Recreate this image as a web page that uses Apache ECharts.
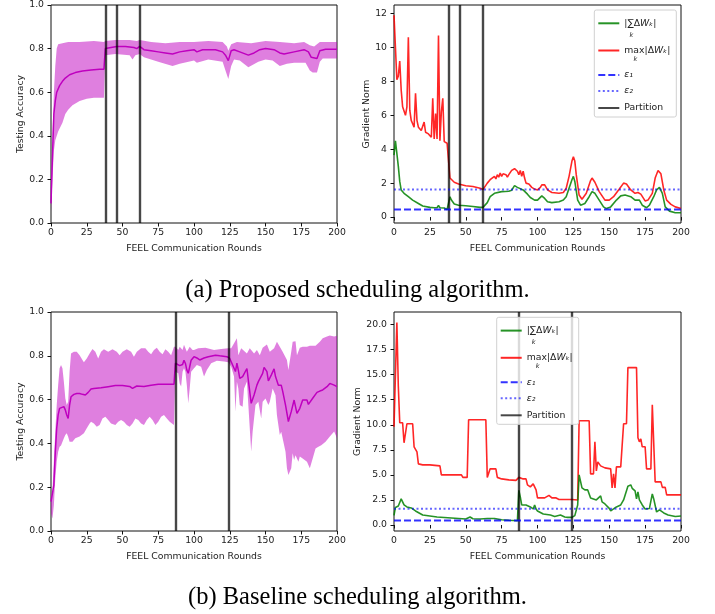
<!DOCTYPE html>
<html><head><meta charset="utf-8">
<script src="https://cdn.jsdelivr.net/npm/echarts@6/dist/echarts.min.js"></script>
<style>html,body{margin:0;padding:0;background:#fff}#c{width:715px;height:614px}</style>
</head><body><div id="c"></div><script>
// ---------- (a) Proposed: testing accuracy ----------
const tlMean = [[0,0.09],[1,0.3],[2,0.5],[3,0.56],[4,0.6],[6,0.63],[8,0.65],[10,0.665],[13,0.68],[17,0.69],[22,0.697],[28,0.702],[34,0.705],[37,0.705],[38,0.80],[42,0.805],[46,0.81],[52,0.81],[58,0.805],[60,0.80],[62,0.81],[65,0.795],[70,0.79],[75,0.785],[80,0.78],[85,0.775],[90,0.785],[95,0.79],[100,0.795],[102,0.785],[106,0.795],[115,0.795],[120,0.785],[122,0.77],[124,0.745],[126,0.79],[128,0.795],[132,0.785],[138,0.77],[142,0.78],[146,0.795],[150,0.8],[156,0.795],[160,0.78],[163,0.775],[170,0.785],[177,0.795],[180,0.785],[182,0.76],[186,0.755],[188,0.79],[192,0.797],[200,0.797]];
const tlUpper = [[0,0.12],[1,0.4],[2,0.6],[3,0.72],[4,0.8],[5,0.82],[8,0.825],[12,0.83],[20,0.83],[30,0.835],[37,0.83],[38,0.835],[45,0.84],[55,0.84],[60,0.835],[62,0.84],[70,0.83],[80,0.825],[90,0.83],[100,0.83],[110,0.835],[120,0.83],[123,0.81],[124,0.79],[126,0.82],[130,0.83],[140,0.825],[150,0.835],[160,0.83],[170,0.825],[177,0.83],[181,0.815],[184,0.81],[188,0.83],[200,0.83]];
const tlLower = [[0,0.05],[1,0.2],[2,0.33],[3,0.38],[5,0.42],[8,0.46],[10,0.5],[12,0.52],[15,0.54],[20,0.56],[25,0.57],[30,0.575],[37,0.575],[38,0.77],[45,0.775],[55,0.77],[57,0.75],[59,0.77],[62,0.775],[65,0.76],[75,0.74],[85,0.72],[90,0.73],[100,0.745],[102,0.735],[110,0.75],[120,0.74],[122,0.7],[124,0.66],[126,0.72],[128,0.75],[132,0.745],[138,0.715],[145,0.74],[150,0.75],[155,0.745],[160,0.72],[165,0.73],[170,0.735],[178,0.735],[181,0.7],[183,0.69],[186,0.69],[188,0.74],[190,0.755],[200,0.755]];
const tlParts = [38, 46, 62];

// ---------- (a) Proposed: gradient norm ----------
const trMax = [[0,11.9],[1,11.8],[2,8.1],[3,8.3],[4,9.2],[5,7.5],[6,6.5],[7,6.6],[8,6.0],[9,6.5],[10,10.6],[11,6.3],[12,5.7],[13,5.5],[14,5.3],[15,7.3],[16,5.7],[17,5.3],[18,5.2],[19,5.1],[20,5.0],[21,5.6],[22,5.0],[23,4.9],[24,4.9],[25,4.8],[26,4.7],[27,7.0],[28,4.6],[29,6.1],[30,4.6],[31,10.7],[32,4.5],[33,6.2],[34,7.0],[35,4.45],[36,4.35],[37,4.35],[38,4.3],[39,2.3],[40,2.2],[42,2.05],[45,1.95],[50,1.85],[55,1.8],[60,1.7],[62,1.62],[63,1.65],[65,2.0],[67,2.2],[68,2.1],[70,2.4],[71,2.25],[72,2.5],[73,2.35],[74,2.6],[75,2.4],[76,2.55],[77,2.45],[78,2.5],[79,2.35],[80,2.5],[81,2.6],[82,2.75],[83,2.8],[84,2.85],[85,2.75],[86,2.7],[87,2.5],[88,2.75],[89,2.4],[90,2.7],[91,2.3],[92,2.0],[93,2.1],[94,1.95],[96,1.75],[98,1.65],[100,1.6],[102,1.75],[103,1.9],[105,1.9],[107,1.6],[110,1.45],[115,1.4],[118,1.45],[120,1.7],[122,2.4],[124,3.3],[125,3.55],[126,3.3],[127,2.5],[129,1.3],[131,1.05],[134,1.4],[137,2.15],[138,2.3],[140,2.05],[143,1.5],[147,1.0],[150,1.0],[153,1.2],[157,1.65],[160,2.0],[162,1.95],[165,1.6],[168,1.4],[170,1.45],[172,1.35],[175,0.95],[177,1.0],[180,1.4],[182,2.3],[184,2.75],[186,2.55],[188,1.6],[190,1.0],[193,0.75],[196,0.6],[200,0.5]];
const trSum = [[0,3.65],[1,4.5],[2,4.4],[3,3.0],[4,2.1],[5,1.6],[7,1.4],[10,1.2],[13,1.0],[17,0.8],[20,0.65],[25,0.57],[28,0.55],[30,0.55],[31,0.68],[32,0.55],[35,0.53],[37,0.45],[38,0.42],[39,1.2],[40,1.0],[42,0.77],[45,0.7],[50,0.67],[55,0.62],[60,0.57],[62,0.57],[63,0.6],[65,0.85],[67,1.2],[70,1.4],[75,1.5],[80,1.52],[82,1.58],[84,1.85],[86,1.75],[90,1.6],[93,1.35],[95,1.15],[98,1.0],[100,1.0],[103,1.25],[105,1.1],[107,0.9],[110,0.85],[115,0.9],[118,1.0],[120,1.2],[122,1.7],[124,2.2],[125,2.4],[126,2.1],[128,1.0],[130,0.7],[133,0.8],[136,1.2],[138,1.5],[140,1.4],[143,1.0],[146,0.6],[148,0.5],[151,0.6],[155,1.0],[158,1.25],[161,1.3],[165,1.2],[168,1.0],[171,1.0],[173,0.7],[176,0.55],[178,0.7],[181,1.2],[183,1.6],[185,1.75],[187,1.4],[189,0.6],[192,0.35],[196,0.25],[200,0.25]];
const trParts = [38, 46, 62];
const trYTicks = [0, 2, 4, 6, 8, 10, 12];

// ---------- (b) Baseline: testing accuracy ----------
const blMean = [[0,0.134],[1,0.134],[2,0.21],[3,0.36],[4,0.47],[5,0.53],[6,0.56],[7,0.568],[9,0.568],[10,0.553],[11,0.53],[12,0.514],[13,0.575],[14,0.613],[16,0.624],[18,0.628],[20,0.628],[22,0.624],[24,0.621],[26,0.633],[28,0.648],[30,0.651],[35,0.654],[40,0.659],[45,0.664],[50,0.664],[55,0.66],[57,0.651],[60,0.662],[65,0.66],[70,0.666],[75,0.67],[80,0.67],[86,0.67],[87,0.766],[88,0.76],[90,0.755],[92,0.76],[93,0.78],[94,0.765],[95,0.735],[96,0.72],[97,0.75],[98,0.78],[100,0.796],[102,0.79],[104,0.781],[107,0.79],[110,0.796],[115,0.803],[118,0.8],[123,0.796],[125,0.788],[127,0.758],[129,0.728],[130,0.766],[131,0.735],[132,0.697],[134,0.705],[137,0.742],[138,0.742],[140,0.583],[142,0.621],[144,0.666],[145,0.682],[148,0.72],[149,0.747],[151,0.728],[152,0.685],[154,0.712],[156,0.74],[157,0.705],[159,0.666],[161,0.666],[162,0.639],[164,0.575],[166,0.5],[167,0.505],[168,0.545],[170,0.598],[171,0.6],[172,0.537],[174,0.56],[176,0.598],[179,0.598],[180,0.578],[183,0.606],[186,0.633],[188,0.639],[190,0.644],[193,0.659],[195,0.674],[198,0.666],[200,0.659]];
const blUpper = [[0,0.134],[1,0.18],[2,0.317],[3,0.454],[4,0.575],[5,0.666],[6,0.743],[7,0.758],[8,0.743],[9,0.682],[10,0.606],[11,0.575],[12,0.59],[13,0.727],[14,0.811],[16,0.819],[18,0.819],[20,0.803],[22,0.781],[23,0.77],[25,0.788],[27,0.811],[29,0.831],[31,0.819],[33,0.788],[35,0.819],[37,0.83],[40,0.819],[43,0.83],[46,0.819],[48,0.803],[50,0.819],[53,0.83],[56,0.819],[58,0.796],[60,0.819],[63,0.834],[66,0.834],[68,0.819],[70,0.807],[72,0.826],[74,0.837],[76,0.819],[78,0.807],[80,0.83],[82,0.819],[84,0.803],[86,0.841],[87,0.841],[89,0.826],[90,0.841],[92,0.826],[93,0.85],[95,0.819],[97,0.841],[99,0.826],[100,0.826],[103,0.834],[108,0.837],[114,0.826],[119,0.831],[124,0.834],[126,0.834],[130,0.88],[131,0.803],[133,0.834],[137,0.81],[139,0.834],[142,0.81],[144,0.826],[146,0.803],[148,0.837],[151,0.852],[153,0.819],[156,0.834],[158,0.864],[160,0.841],[162,0.819],[165,0.781],[166,0.735],[168,0.819],[169,0.864],[171,0.867],[172,0.803],[174,0.837],[176,0.841],[179,0.841],[181,0.846],[185,0.846],[188,0.864],[190,0.88],[193,0.888],[195,0.893],[198,0.888],[200,0.891]];
const blLower = [[0,0.08],[1,0.057],[2,0.118],[3,0.24],[4,0.317],[5,0.362],[6,0.385],[7,0.39],[9,0.423],[10,0.438],[11,0.446],[12,0.43],[13,0.408],[15,0.408],[17,0.423],[20,0.431],[23,0.446],[25,0.469],[27,0.491],[28,0.499],[30,0.491],[32,0.476],[34,0.484],[36,0.514],[38,0.522],[40,0.507],[42,0.491],[45,0.484],[47,0.499],[49,0.507],[51,0.499],[53,0.484],[55,0.476],[57,0.491],[59,0.514],[61,0.507],[63,0.491],[65,0.484],[67,0.507],[69,0.522],[71,0.507],[73,0.484],[75,0.499],[77,0.522],[79,0.53],[81,0.514],[83,0.499],[86,0.484],[87,0.727],[89,0.72],[90,0.674],[91,0.66],[92,0.727],[93,0.743],[94,0.727],[95,0.666],[96,0.583],[97,0.651],[98,0.727],[100,0.743],[102,0.758],[105,0.75],[107,0.705],[109,0.735],[112,0.766],[116,0.777],[121,0.774],[124,0.77],[126,0.75],[128,0.705],[129,0.545],[130,0.682],[131,0.651],[132,0.575],[134,0.567],[135,0.651],[137,0.682],[138,0.575],[140,0.362],[141,0.453],[143,0.575],[145,0.59],[147,0.514],[148,0.59],[150,0.605],[152,0.575],[153,0.59],[155,0.651],[157,0.62],[158,0.529],[160,0.438],[161,0.453],[164,0.362],[165,0.286],[166,0.256],[168,0.286],[169,0.355],[170,0.324],[171,0.346],[173,0.316],[174,0.34],[176,0.331],[179,0.316],[181,0.286],[183,0.331],[185,0.377],[187,0.385],[189,0.392],[192,0.408],[195,0.431],[198,0.454],[200,0.423]];
const blParts = [87, 124];

// ---------- (b) Baseline: gradient norm ----------
const brMax = [[0,9.8],[1,9.8],[2,20.2],[3,13.9],[4,10.2],[6,10.2],[7,8.2],[8,8.2],[9,10.1],[13,10.1],[14,7.8],[15,7.8],[16,7.3],[17,6.1],[20,6.0],[25,6.0],[26,5.9],[32,5.9],[33,5.0],[45,5.0],[46,4.85],[47,5.0],[48,4.75],[51,4.75],[52,10.5],[64,10.5],[65,4.75],[67,5.6],[71,5.6],[72,4.75],[75,4.6],[80,4.5],[85,4.45],[87,4.75],[90,4.6],[92,4.6],[93,4.0],[95,3.8],[97,4.1],[99,3.5],[100,2.7],[105,2.7],[108,2.95],[109,2.8],[110,2.7],[113,2.7],[115,2.55],[124,2.55],[125,2.45],[128,2.5],[129,10.4],[136,10.4],[137,5.1],[139,5.1],[140,8.3],[141,5.4],[142,6.3],[144,5.9],[147,5.7],[151,5.6],[152,3.7],[153,5.1],[154,3.7],[155,5.8],[158,5.8],[160,10.1],[162,10.1],[163,15.7],[169,15.7],[170,8.7],[171,8.3],[172,8.6],[173,7.8],[175,7.8],[176,5.6],[179,5.6],[180,12.0],[181,12.0],[182,4.3],[186,4.3],[187,3.75],[189,3.75],[190,3.0],[200,3.0]];
const brSum = [[0,0.95],[1,1.75],[3,1.9],[5,2.6],[6,2.5],[7,2.0],[9,1.8],[12,1.7],[15,1.4],[20,1.0],[25,0.9],[30,0.8],[40,0.7],[50,0.6],[53,0.8],[55,0.62],[60,0.6],[65,0.65],[70,0.65],[75,0.53],[80,0.47],[86,0.43],[87,3.45],[88,2.8],[89,2.0],[92,2.0],[93,1.9],[95,1.8],[97,1.6],[98,2.0],[99,1.6],[100,1.4],[104,1.1],[109,1.0],[112,0.85],[116,1.0],[119,0.8],[121,0.76],[124,0.76],[126,0.93],[128,2.0],[129,5.0],[131,3.7],[133,3.5],[135,3.5],[137,2.7],[139,2.6],[141,2.5],[144,2.9],[145,2.3],[147,2.1],[150,1.66],[151,1.4],[153,1.6],[155,1.8],[158,2.0],[160,2.5],[163,3.86],[165,4.0],[166,3.66],[168,3.4],[169,2.6],[170,3.3],[171,2.5],[173,2.0],[175,1.6],[178,1.65],[180,3.1],[181,2.6],[183,1.3],[185,1.5],[188,1.2],[191,1.0],[196,0.85],[200,0.9]];
const brParts = [87, 124];
const brYTicks = [0, 2.5, 5, 7.5, 10, 12.5, 15, 17.5, 20];

// thresholds
const eps1 = 0.45;
const eps2 = 1.63;

const xTicks = [0, 25, 50, 75, 100, 125, 150, 175, 200];
const captions = ['(a) Proposed scheduling algorithm.', '(b) Baseline scheduling algorithm.'];

// ---------- styling ----------
const FONT = 'DejaVu Sans';
const FS = 9.3;
const TXT = '#222';
const BAND = 'rgba(191,0,191,0.5)';
const MEAN = '#bf00bf';
const GREEN = 'rgba(0,128,0,0.85)';
const RED = 'rgba(255,0,0,0.85)';
const BLUE = 'rgba(0,0,255,0.8)';
const BLUE2 = 'rgba(0,0,255,0.6)';
const PART = 'rgba(0,0,0,0.72)';

const grids = [
  {left:51, top:5, width:286, height:218},
  {left:394, top:5, width:287, height:218},
  {left:51, top:312, width:286, height:219},
  {left:394, top:312, width:287, height:219}
].map(g => Object.assign(g, {show:true, borderColor:'#111', borderWidth:1, backgroundColor:'transparent', containLabel:false}));

function xAxis(gi) {
  return {
    type:'value', gridIndex:gi, min:0, max:200,
    axisLine:{show:false},
    axisTick:{show:true, length:3.5, lineStyle:{color:'#111'}, customValues:xTicks},
    axisLabel:{fontSize:FS, color:TXT, fontFamily:FONT, margin:5, customValues:xTicks},
    splitLine:{show:false},
    name:'FEEL Communication Rounds', nameLocation:'middle', nameGap:21,
    nameTextStyle:{fontSize:FS, color:TXT, fontFamily:FONT}
  };
}
function yAxis(gi, min, max, ticks, fmt, name, gap) {
  return {
    type:'value', gridIndex:gi, min:min, max:max,
    axisLine:{show:false},
    axisTick:{show:true, length:3.5, lineStyle:{color:'#111'}, customValues:ticks},
    axisLabel:{fontSize:FS, color:TXT, fontFamily:FONT, margin:7, customValues:ticks, formatter:fmt},
    splitLine:{show:false},
    name:name, nameLocation:'middle', nameGap:gap,
    nameTextStyle:{fontSize:FS, color:TXT, fontFamily:FONT}
  };
}
const accTicks = [0, 0.2, 0.4, 0.6, 0.8, 1.0];
const f1 = v => Number(v).toFixed(1);
const f0 = v => String(Math.round(v));

function band(ai, upper, lower) {
  return {
    type:'custom', xAxisIndex:ai, yAxisIndex:ai, silent:true, z:1,
    data:[[0,0]],
    renderItem:function(params, api) {
      const pts = upper.map(p => api.coord(p)).concat(lower.slice().reverse().map(p => api.coord(p)));
      return {type:'polygon', shape:{points:pts}, style:{fill:BAND}};
    }
  };
}
function partMark(parts) {
  return {
    silent:true, symbol:['none','none'], label:{show:false},
    lineStyle:{color:PART, width:2.4, type:'solid'},
    emphasis:{disabled:true},
    data: parts.map(x => ({xAxis:x}))
  };
}
function lineS(ai, name, data, color, width, type, z, mark) {
  const s = {
    type:'line', name:name, xAxisIndex:ai, yAxisIndex:ai, data:data,
    symbol:'none', showSymbol:false, z:z, silent:true,
    lineStyle:{color:color, width:width, type:type},
    itemStyle:{color:color},
    emphasis:{disabled:true}, animation:false
  };
  if (mark) s.markLine = mark;
  return s;
}
function gradSeries(ai, sum, max, parts) {
  return [
    lineS(ai, 'max', max, RED, 1.6, 'solid', 3),
    lineS(ai, 'sum', sum, GREEN, 1.6, 'solid', 4, partMark(parts)),
    lineS(ai, 'eps1', [[0,eps1],[200,eps1]], BLUE, 2, [7,3], 5),
    lineS(ai, 'eps2', [[0,eps2],[200,eps2]], BLUE2, 2, [2,2.5], 5),
    lineS(ai, 'Partition', [], PART, 2.4, 'solid', 5)
  ];
}

const legendNames = ['sum','max','eps1','eps2','Partition'];
const legendLabels = {
  sum:'{n||∑Δ}{i|Wₖ}{n||}',
  max:'{n|max|Δ}{i|Wₖ}{n||}',
  eps1:'{i|ε₁}',
  eps2:'{i|ε₂}',
  Partition:'{n|Partition}'
};
const legendOffsets = [13.3, 40.5, 65, 81, 98];
function legendSet(bx, by) {
  return legendNames.map((nm, i) => ({
    data:[nm], left:bx + 3, top:by + legendOffsets[i] - 6,
    orient:'vertical', padding:0, itemGap:0, itemWidth:21, itemHeight:12,
    selectedMode:false, zlevel:1, z:120,
    itemStyle:{color:'rgba(0,0,0,0)', borderColor:'rgba(0,0,0,0)', borderWidth:0, opacity:0},
    formatter:name => legendLabels[name],
    textStyle:{fontSize:FS, color:TXT, fontFamily:FONT, lineHeight:12,
      rich:{
        n:{fontSize:FS, color:TXT, fontFamily:FONT, lineHeight:12},
        i:{fontSize:FS, color:TXT, fontFamily:FONT, fontStyle:'italic', lineHeight:12}
      }}
  }));
}
function legendDeco(bx, by) {
  return [
    {type:'rect', zlevel:1, z:100, shape:{x:bx, y:by, width:82, height:107, r:2},
      style:{fill:'rgba(255,255,255,0.8)', stroke:'#d0d0d0', lineWidth:1}},
    {type:'text', zlevel:1, z:121, x:bx + 37, y:by + 25,
      style:{text:'k', fontSize:6.5, fontStyle:'italic', fontFamily:FONT, fill:TXT, align:'center', verticalAlign:'middle'}},
    {type:'text', zlevel:1, z:121, x:bx + 41, y:by + 49,
      style:{text:'k', fontSize:6.5, fontStyle:'italic', fontFamily:FONT, fill:TXT, align:'center', verticalAlign:'middle'}}
  ];
}

const option = {
  animation:false,
  backgroundColor:'#fff',
  title:[
    {text:captions[0], left:'center', top:273, textStyle:{fontFamily:'Liberation Serif', fontSize:24.5, fontWeight:'normal', color:'#000'}},
    {text:captions[1], left:'center', top:580, textStyle:{fontFamily:'Liberation Serif', fontSize:24.5, fontWeight:'normal', color:'#000'}}
  ],
  grid:grids,
  xAxis:[xAxis(0), xAxis(1), xAxis(2), xAxis(3)],
  yAxis:[
    yAxis(0, 0, 1, accTicks, f1, 'Testing Accuracy', 25),
    yAxis(1, -0.35, 12.5, trYTicks, f0, 'Gradient Norm', 21),
    yAxis(2, 0, 1, accTicks, f1, 'Testing Accuracy', 25),
    yAxis(3, -0.6, 21.25, brYTicks, f1, 'Gradient Norm', 31)
  ],
  legend:[].concat(legendSet(594.3, 10), legendSet(496.7, 317.3)),
  graphic:{elements:[].concat(legendDeco(594.3, 10), legendDeco(496.7, 317.3))},
  series:[
    band(0, tlUpper, tlLower),
    lineS(0, 'accA', tlMean, MEAN, 1.5, 'solid', 3, partMark(tlParts)),
    band(2, blUpper, blLower),
    lineS(2, 'accB', blMean, MEAN, 1.5, 'solid', 3, partMark(blParts))
  ].concat(gradSeries(1, trSum, trMax, trParts), gradSeries(3, brSum, brMax, brParts))
};

const chart = echarts.init(document.getElementById('c'), null, {renderer:'canvas'});
chart.setOption(option);
</script></body></html>
